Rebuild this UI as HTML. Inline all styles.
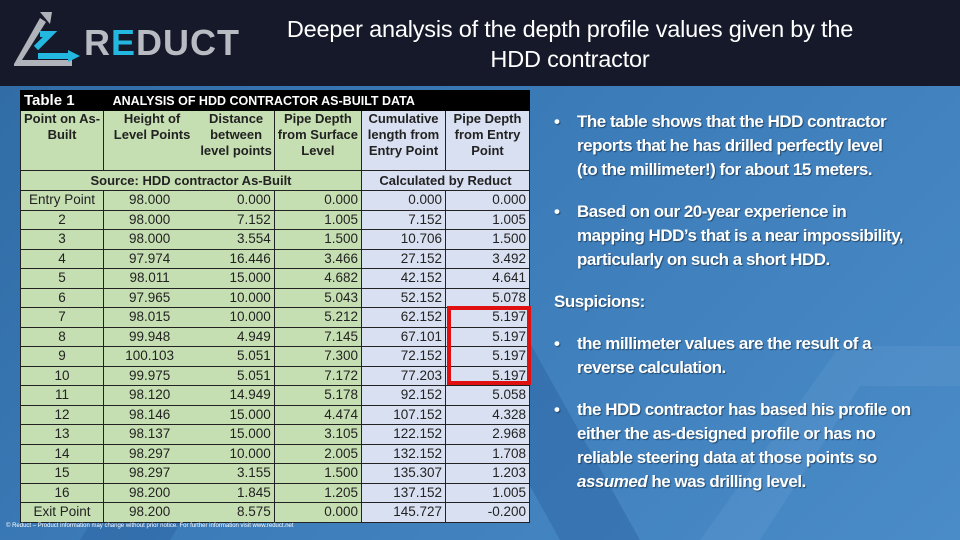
<!DOCTYPE html>
<html><head><meta charset="utf-8">
<style>
*{margin:0;padding:0;box-sizing:border-box}
body{width:960px;height:540px;overflow:hidden;position:relative;font-family:"Liberation Sans",sans-serif;background:linear-gradient(135deg,#2f6aa3 0%,#3b7bb8 45%,#4a8cc8 100%)}
#hdr{position:absolute;left:0;top:0;width:960px;height:86px;background:#16192a}
#title{position:absolute;left:250px;top:14px;width:640px;text-align:center;color:#fff;font-size:23.5px;line-height:30px;letter-spacing:-0.2px}
#logo-text{position:absolute;left:84px;top:22px;font-size:36px;font-weight:bold;color:#b8bcc2;letter-spacing:1px}
#logo-text span{color:#22b8e0}
table{position:absolute;left:20px;top:90px;border-collapse:collapse;width:510px;font-size:13.5px;color:#222}
td{border:1px solid #222;padding:0 3px;height:19.5px;line-height:16px;text-align:right;white-space:nowrap}
td.g{background:#c6dfb2}td.b{background:#d9e0f1}
.c{text-align:center}
.hd td{font-weight:bold;text-align:center;vertical-align:top;font-size:13px}
#bul{position:absolute;left:554px;top:110px;width:400px;color:#fff;font-weight:bold;font-size:17px;line-height:24px;letter-spacing:-0.5px;text-shadow:1px 1px 1px rgba(0,0,0,.45);white-space:nowrap}
#bul p{position:relative;padding-left:23px}
#bul p.b::before{content:"•";position:absolute;left:0}
#foot{position:absolute;left:6px;top:523px;font-size:6px;color:#fff}
#redbox{position:absolute;left:447px;top:306px;width:84px;height:79px;border:4px solid #e01010}
</style></head><body>
<div id="hdr"></div>
<svg style="position:absolute;left:0;top:86px" width="960" height="454">
<polygon points="80,454 330,60 420,60 640,454 560,454 375,120 170,454" fill="#2d62a0" opacity="0.45"/>
<polygon points="700,454 840,260 960,260 960,300 860,300 760,454" fill="#6aa0d4" opacity="0.25"/>
</svg>
<svg style="position:absolute;left:6px;top:8px" width="80" height="64">
<polygon points="8,56 34,10 40,14 16,52 66,52 66,58 8,58" fill="#b0b4ba"/>
<polygon points="34,4 46,4 44,16" fill="#b0b4ba"/>
<path d="M30,40 L44,26 L34,26 M32,48 L64,48" stroke="#22b8e0" stroke-width="6" fill="none"/>
<polygon points="62,42 74,48 62,54" fill="#22b8e0"/>
</svg>
<div id="logo-text">R<span>E</span>DUCT</div>
<div id="title">Deeper analysis of the depth profile values given by the<br>HDD contractor</div>

<table id="tbl">
<tr style="background:#000;color:#fff"><td colspan="6" style="text-align:left;height:20px;font-weight:bold;background:#000;border-color:#000"><span style="font-size:15px">Table 1</span><span style="margin-left:38px;font-size:12.5px">ANALYSIS OF HDD CONTRACTOR AS-BUILT DATA</span></td></tr>
<tr class="hd"><td class="g" style="width:82px;height:60px">Point on As-<br>Built</td><td class="g" colspan="2" style="padding:0"><div style="display:flex"><div style="width:96px">Height of<br>Level Points</div><div style="width:72px">Distance<br>between<br>level points</div></div></td><td class="g" style="width:87px">Pipe Depth<br>from Surface<br>Level</td><td class="b" style="width:84px">Cumulative<br>length from<br>Entry Point</td><td class="b" style="width:84px">Pipe Depth<br>from Entry<br>Point</td></tr>
<tr class="hd"><td class="g" colspan="4" style="vertical-align:middle;height:20px">Source: HDD contractor As-Built</td><td class="b" colspan="2" style="vertical-align:middle">Calculated by Reduct</td></tr>
<tbody id="body"></tbody>
</table>
<div id="redbox"></div>

<div id="bul">
<p class="b">The table shows that the HDD contractor<br>reports that he has drilled perfectly level<br>(to the millimeter!) for about 15 meters.</p>
<p class="b" style="margin-top:18px">Based on our 20-year experience in<br>mapping HDD’s that is a near impossibility,<br>particularly on such a short HDD.</p>
<p style="padding-left:0;margin-top:18px">Suspicions:</p>
<p class="b" style="margin-top:18px">the millimeter values are the result of a<br>reverse calculation.</p>
<p class="b" style="margin-top:18px">the HDD contractor has based his profile on<br>either the as-designed profile or has no<br>reliable steering data at those points so<br><i>assumed</i> he was drilling level.</p>
</div>
<div id="foot">© Reduct – Product information may change without prior notice. For further information visit www.reduct.net</div>

<script>
const points=["Entry Point","2","3","4","5","6","7","8","9","10","11","12","13","14","15","16","Exit Point"];
const heights=["98.000","98.000","98.000","97.974","98.011","97.965","98.015","99.948","100.103","99.975","98.120","98.146","98.137","98.297","98.297","98.200","98.200"];
const distances=["0.000","7.152","3.554","16.446","15.000","10.000","10.000","4.949","5.051","5.051","14.949","15.000","15.000","10.000","3.155","1.845","8.575"];
const depthSurface=["0.000","1.005","1.500","3.466","4.682","5.043","5.212","7.145","7.300","7.172","5.178","4.474","3.105","2.005","1.500","1.205","0.000"];
const cumulative=["0.000","7.152","10.706","27.152","42.152","52.152","62.152","67.101","72.152","77.203","92.152","107.152","122.152","132.152","135.307","137.152","145.727"];
const depthEntry=["0.000","1.005","1.500","3.492","4.641","5.078","5.197","5.197","5.197","5.197","5.058","4.328","2.968","1.708","1.203","1.005","-0.200"];
const body=document.getElementById('body');
points.forEach((p,i)=>{
  const tr=document.createElement('tr');
  
  
  const cells=[[p,'g c'],[heights[i],'g'],[distances[i],'g'],[depthSurface[i],'g'],[cumulative[i],'b'],[depthEntry[i],'b']];
  cells.forEach((c,j)=>{
    const td=document.createElement('td');
    
    
    td.className=c[1];
    td.textContent=c[0];
    if(j===1){td.style.textAlign='center';td.style.borderRight='none';}
    if(j===2){td.style.borderLeft='none';}
    tr.appendChild(td);
  });
  body.appendChild(tr);
});
</script>
</body></html>
